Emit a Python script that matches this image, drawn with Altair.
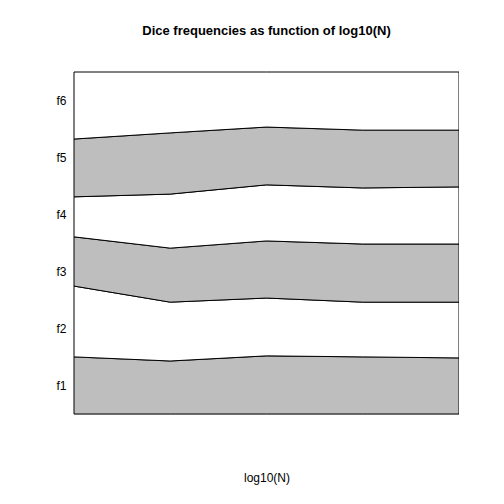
import altair as alt
import pandas as pd

logn = [1, 2, 3, 4, 5]
faces = ["f1", "f2", "f3", "f4", "f5", "f6"]
freqs = {
    "f1": [0.167, 0.155, 0.170, 0.167, 0.164],
    "f2": [0.207, 0.172, 0.169, 0.160, 0.163],
    "f3": [0.144, 0.158, 0.167, 0.170, 0.170],
    "f4": [0.117, 0.158, 0.164, 0.164, 0.167],
    "f5": [0.169, 0.179, 0.169, 0.169, 0.166],
}
freqs["f6"] = [1 - sum(freqs[f][i] for f in faces[:5]) for i in range(5)]

rows = []
for k, f in enumerate(faces):
    for i, x in enumerate(logn):
        rows.append({"x": x, "face": f, "ord": k, "freq": freqs[f][i],
                     "band": "grey" if k % 2 == 0 else "white"})
df = pd.DataFrame(rows)

ticks = [(2 * k + 1) / 12 for k in range(6)]

areas = alt.Chart(df).mark_area(stroke="black", strokeWidth=1).encode(
    x=alt.X("x:Q", title="log10(N)", scale=alt.Scale(domain=[1, 5], nice=False),
            axis=alt.Axis(labels=False, ticks=False, domain=False, grid=False,
                          titlePadding=58, titleFont="Arial", titleFontWeight="normal",
                          titleFontSize=12, titleColor="black")),
    y=alt.Y("freq:Q", stack="zero", title=None,
            scale=alt.Scale(domain=[0, 1], nice=False),
            axis=alt.Axis(values=ticks, ticks=False, domain=False, grid=False,
                          labelExpr="['f1','f2','f3','f4','f5','f6'][round(datum.value*6-0.5)]",
                          labelPadding=8, labelFont="Arial", labelFontSize=12,
                          labelColor="black")),
    color=alt.Color("band:N", scale=alt.Scale(domain=["grey", "white"],
                                              range=["#bebebe", "white"]), legend=None),
    order=alt.Order("ord:Q"),
)

chart = areas.properties(
    width=385, height=342,
    title=alt.TitleParams("Dice frequencies as function of log10(N)", font="Arial",
                          fontSize=13, fontWeight="bold", offset=32, anchor="middle"),
    autosize=alt.AutoSizeParams(type="none"),
    padding={"left": 66, "top": 64, "right": 0, "bottom": 80},
).configure_view(stroke="black", strokeWidth=1).configure(background="white")

chart.save("out.html", embed_options={"renderer": "svg", "actions": False})
